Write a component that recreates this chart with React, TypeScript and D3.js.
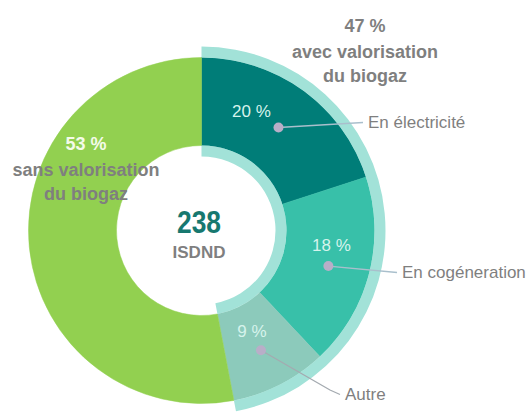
import React, { useEffect, useRef } from "react";
import * as d3 from "d3";

// ISDND by biogas use, % of sites
const sliceNames = ["En électricité", "En cogéneration", "Autre", "Sans valorisation"];
const sliceValues = [20, 18, 9, 53];

const groupNames = [["avec valorisation", "du biogaz"], ["sans valorisation", "du biogaz"]];
const groupValues = [47, 53];

const totalSites = 238;
const totalLabel = "ISDND";

// styles / layout
const colors = ["#007d78", "#38c0a9", "#8ccabb", "#92d050"];
const bandColor = "#a2e2d8";
const grey = "#7f7f7f";
const font = "'Liberation Sans', Arial, sans-serif";

// percent label offset from the dot, and where the callout text sits
const pctOffsets = [[-27, -11], [3, -15], [-9, -13]];
const callouts = [
    { tx: 368, ty: 128, elbow: null },
    { tx: 402, ty: 278, elbow: null },
    { tx: 345, ty: 400, elbow: [330, 390] },
];

function App() {
    const ref = useRef<SVGSVGElement>(null);

    useEffect(() => {
        const cx = 201.5, cy = 230.5;
        const rIn = 85, rOut = 173, band = 11;

        const svg = d3.select(ref.current);
        svg.selectAll("*").remove();
        const g = svg.append("g").attr("transform", `translate(${cx},${cy})`);

        const pie = d3.pie<number>().sort(null).value(d => d);
        const arcs = pie(sliceValues);
        const arc = d3.arc<d3.PieArcDatum<number>>().innerRadius(rIn).outerRadius(rOut);

        g.selectAll("path.slice").data(arcs).join("path")
            .attr("class", "slice")
            .attr("d", arc)
            .attr("fill", (d, i) => colors[i])
            .attr("stroke", (d, i) => colors[i])
            .attr("stroke-width", 0.5);

        // light bands around the "avec valorisation" part
        const endWith = arcs[2].endAngle;
        const bandArc = d3.arc();
        g.append("path")
            .attr("d", bandArc({ innerRadius: rOut, outerRadius: rOut + band, startAngle: 0, endAngle: endWith } as any))
            .attr("fill", bandColor);
        g.append("path")
            .attr("d", bandArc({ innerRadius: rIn - band, outerRadius: rIn, startAngle: 0, endAngle: endWith } as any))
            .attr("fill", bandColor);

        // callouts
        const dotArc = d3.arc<d3.PieArcDatum<number>>().innerRadius(131).outerRadius(131);
        arcs.slice(0, 3).forEach((d, i) => {
            const [x0, y0] = dotArc.centroid(d);
            const px = cx + x0, py = cy + y0 + 3;
            const c = callouts[i];
            const pts: [number, number][] = [[px, py]];
            if (c.elbow) pts.push(c.elbow as [number, number]);
            pts.push([c.tx - 5, c.ty - 5.5]);

            svg.append("path")
                .attr("d", d3.line()(pts))
                .attr("fill", "none")
                .attr("stroke", i === 2 ? "#a4aab0" : "#a9bfcc")
                .attr("stroke-width", 1.3);
            svg.append("circle")
                .attr("cx", px).attr("cy", py).attr("r", 5)
                .attr("fill", "#b9aec8");
            svg.append("text")
                .attr("x", px + pctOffsets[i][0]).attr("y", py + pctOffsets[i][1])
                .attr("text-anchor", "middle")
                .attr("font-family", font).attr("font-size", 17)
                .attr("fill", "#d6f3ec")
                .text(d.data + " %");
            svg.append("text")
                .attr("x", c.tx).attr("y", c.ty)
                .attr("font-family", font).attr("font-size", 17)
                .attr("fill", grey)
                .text(sliceNames[i]);
        });

        // group labels
        const groups = [
            { x: 365, y: 32, pctColor: grey },
            { x: 86, y: 150, pctColor: "#f4fbe9" },
        ];
        groups.forEach((p, i) => {
            const t = svg.append("text")
                .attr("text-anchor", "middle")
                .attr("font-family", font).attr("font-size", 18).attr("font-weight", "bold");
            t.append("tspan").attr("x", p.x).attr("y", p.y).attr("fill", p.pctColor).text(groupValues[i] + " %");
            groupNames[i].forEach((line, k) => {
                t.append("tspan").attr("x", p.x).attr("y", p.y + 26 * (k + 1) - k * 2).attr("fill", grey).text(line);
            });
        });

        // centre
        svg.append("text")
            .attr("x", cx - 2.5).attr("y", cy + 2)
            .attr("text-anchor", "middle")
            .attr("font-family", font).attr("font-size", 32).attr("font-weight", "bold")
            .attr("textLength", 44).attr("lengthAdjust", "spacingAndGlyphs")
            .attr("fill", "#17786f")
            .text(totalSites);
        svg.append("text")
            .attr("x", cx - 2.5).attr("y", cy + 27)
            .attr("text-anchor", "middle")
            .attr("font-family", font).attr("font-size", 17).attr("font-weight", "bold")
            .attr("fill", grey)
            .text(totalLabel);
    }, []);

    return (
        <svg ref={ref} width={526} height={413}
            style={{ position: "absolute", left: 0, top: 0, background: "#fff" }} />
    );
}

export default App;
